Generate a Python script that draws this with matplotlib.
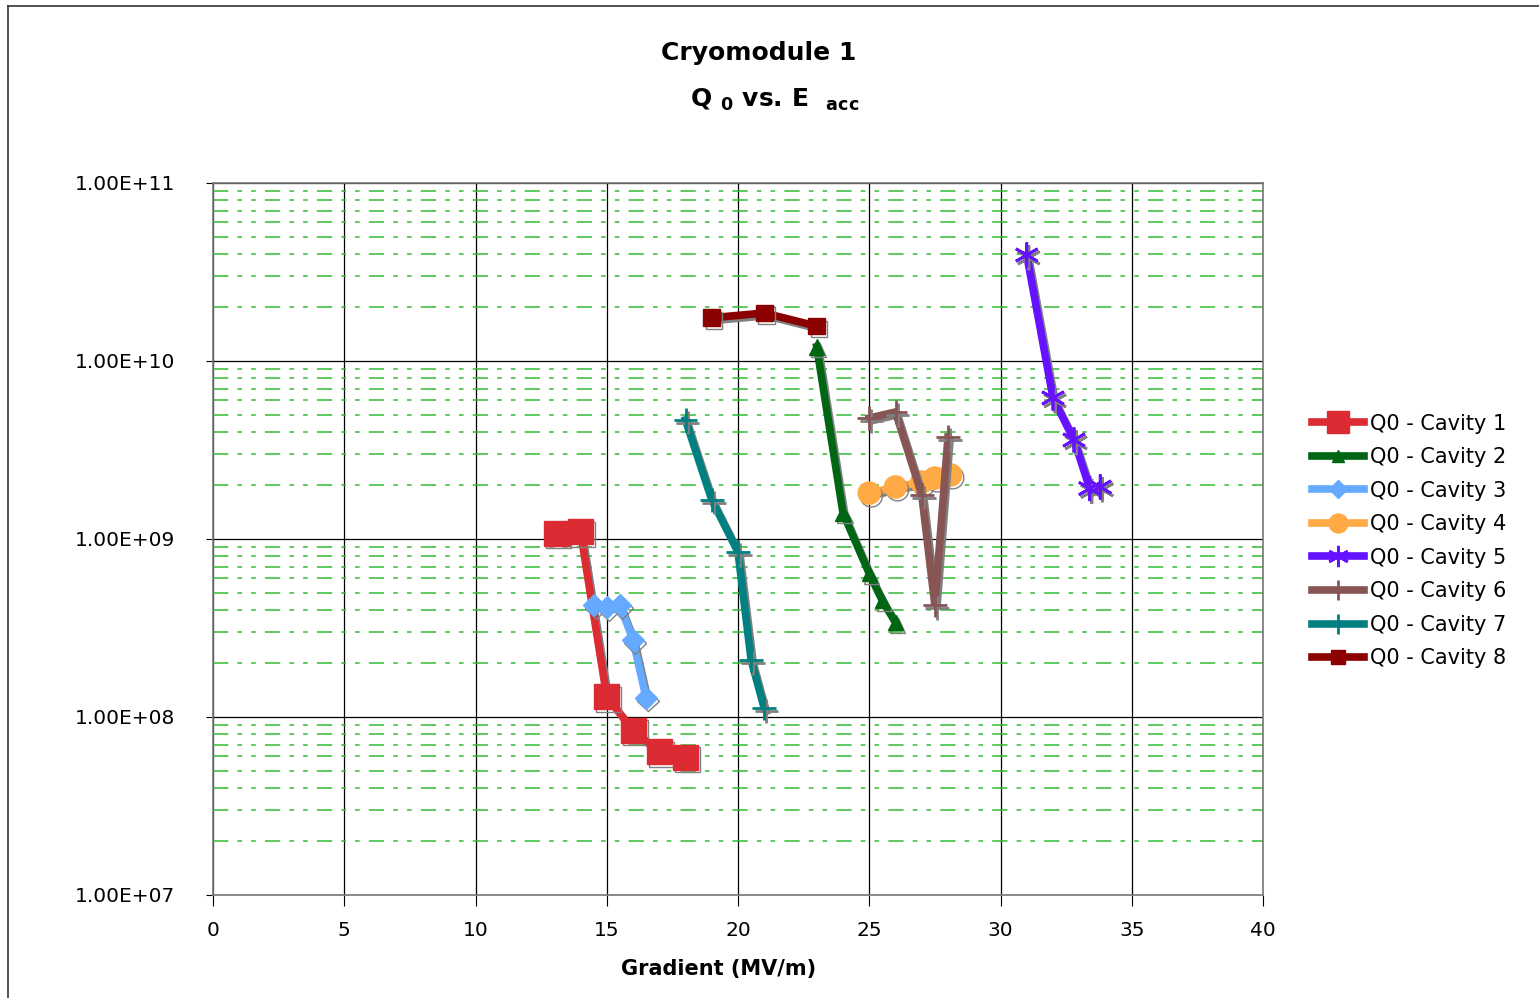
import matplotlib.pyplot as plt
import matplotlib.patheffects as pe
from matplotlib.lines import Line2D
from matplotlib.ticker import FixedLocator, LogLocator, NullFormatter

# gradient (MV/m) and Q0 per cavity
e_cav1 = [13.1, 14.0, 15.0, 16.0, 17.0, 18.0]
q_cav1 = [1.08e9, 1.10e9, 1.30e8, 8.45e7, 6.4e7, 5.96e7]

e_cav2 = [23.0, 24.0, 25.0, 25.5, 26.0]
q_cav2 = [1.2e10, 1.4e9, 6.4e8, 4.5e8, 3.4e8]

e_cav3 = [14.5, 15.0, 15.5, 16.0, 16.5]
q_cav3 = [4.26e8, 4.15e8, 4.26e8, 2.71e8, 1.28e8]

e_cav4 = [25.0, 26.0, 27.0, 27.5, 28.1]
q_cav4 = [1.81e9, 1.96e9, 2.09e9, 2.2e9, 2.29e9]

e_cav5 = [31.0, 32.0, 32.8, 33.4, 33.8]
q_cav5 = [3.94e10, 6.2e9, 3.6e9, 1.92e9, 1.96e9]

e_cav6 = [25.0, 26.0, 27.0, 27.5, 28.0]
q_cav6 = [4.78e9, 5.17e9, 1.77e9, 4.26e8, 3.74e9]

e_cav7 = [18.0, 19.0, 20.0, 20.5, 21.0]
q_cav7 = [4.67e9, 1.66e9, 8.45e8, 2.09e8, 1.12e8]

e_cav8 = [19.0, 21.0, 23.0]
q_cav8 = [1.75e10, 1.86e10, 1.57e10]

x_ticks = [0, 5, 10, 15, 20, 25, 30, 35, 40]
y_ticks = [1e7, 1e8, 1e9, 1e10, 1e11]
y_labels = ["1.00E+07", "1.00E+08", "1.00E+09", "1.00E+10", "1.00E+11"]

series = [
    ("Q0 - Cavity 1", e_cav1, q_cav1, "#dc2b32", "s", 18, 1),
    ("Q0 - Cavity 2", e_cav2, q_cav2, "#006614", "^", 11, 1),
    ("Q0 - Cavity 3", e_cav3, q_cav3, "#66aaff", "D", 11, 1),
    ("Q0 - Cavity 4", e_cav4, q_cav4, "#ffaa44", "o", 16, 1),
    ("Q0 - Cavity 5", e_cav5, q_cav5, "#6611ff", (6, 2, 0), 18, 2),
    ("Q0 - Cavity 6", e_cav6, q_cav6, "#885555", "+", 17, 2),
    ("Q0 - Cavity 7", e_cav7, q_cav7, "#008080", "+", 17, 2),
    ("Q0 - Cavity 8", e_cav8, q_cav8, "#8b0000", "s", 12, 1),
]

fig = plt.figure(figsize=(15.39, 9.98), dpi=100)
ax = fig.add_axes([213 / 1539, 1 - 895 / 998, 1050 / 1539, 712 / 998])

shadow = [pe.SimpleLineShadow(offset=(1.5, -2), shadow_color="#808080", alpha=1.0), pe.Normal()]

handles = []
for name, xs, ys, col, mk, ms, mew in series:
    ax.plot(xs, ys, color=col, lw=5.5, marker=mk, ms=ms, mfc=col, mec=col, mew=mew,
            solid_joinstyle="miter", path_effects=shadow, zorder=3)
    handles.append(Line2D([], [], color=col, lw=5.5, marker=mk, ms=ms * 0.85, mfc=col, mec=col, mew=mew,
                          label=name))

ax.set_yscale("log")
ax.set_xlim(0, 40)
ax.set_ylim(1e7, 1e11)

ax.xaxis.set_major_locator(FixedLocator(x_ticks))
ax.yaxis.set_major_locator(FixedLocator(y_ticks))
ax.set_yticklabels(y_labels)
ax.yaxis.set_minor_locator(LogLocator(base=10, subs=range(2, 10)))
ax.yaxis.set_minor_formatter(NullFormatter())

ax.grid(True, which="major", axis="both", color="black", lw=0.9)
ax.grid(True, which="minor", axis="y", color="#33bb33", lw=1.1, dashes=(10, 6, 3, 6, 3, 6))
ax.set_axisbelow(True)

ax.tick_params(axis="both", which="major", labelsize=14.5, direction="out", color="black")
ax.tick_params(axis="x", which="major", length=8, pad=11)
ax.tick_params(axis="y", which="major", length=5, pad=22)
ax.tick_params(axis="y", which="minor", length=0)
for s in ax.spines.values():
    s.set_color("#777777")
    s.set_linewidth(1.2)

fig.text(759 / 1539, 1 - 53 / 998, "Cryomodule 1", ha="center", va="center",
         fontsize=18, fontweight="bold")
fig.text(775 / 1539, 1 - 100 / 998, r"Q $_{\mathbf{0}}$ vs. E  $_{\mathbf{acc}}$", ha="center", va="center",
         fontsize=18, fontweight="bold")
fig.text(719 / 1539, 1 - 969 / 998, "Gradient (MV/m)", ha="center", va="center",
         fontsize=15, fontweight="bold")

fig.legend(handles=handles, loc="center left", bbox_to_anchor=(1293 / 1539, 1 - 541 / 998),
           frameon=False, fontsize=15, handlelength=2.5, handletextpad=0.3, labelspacing=0.65)

# outer chart border
fig.add_artist(Line2D([8 / 1539, 1], [1 - 6 / 998, 1 - 6 / 998], color="#333333", lw=1.2))
fig.add_artist(Line2D([8 / 1539, 8 / 1539], [0, 1 - 6 / 998], color="#333333", lw=1.2))

fig.savefig("out.png", dpi=100)
